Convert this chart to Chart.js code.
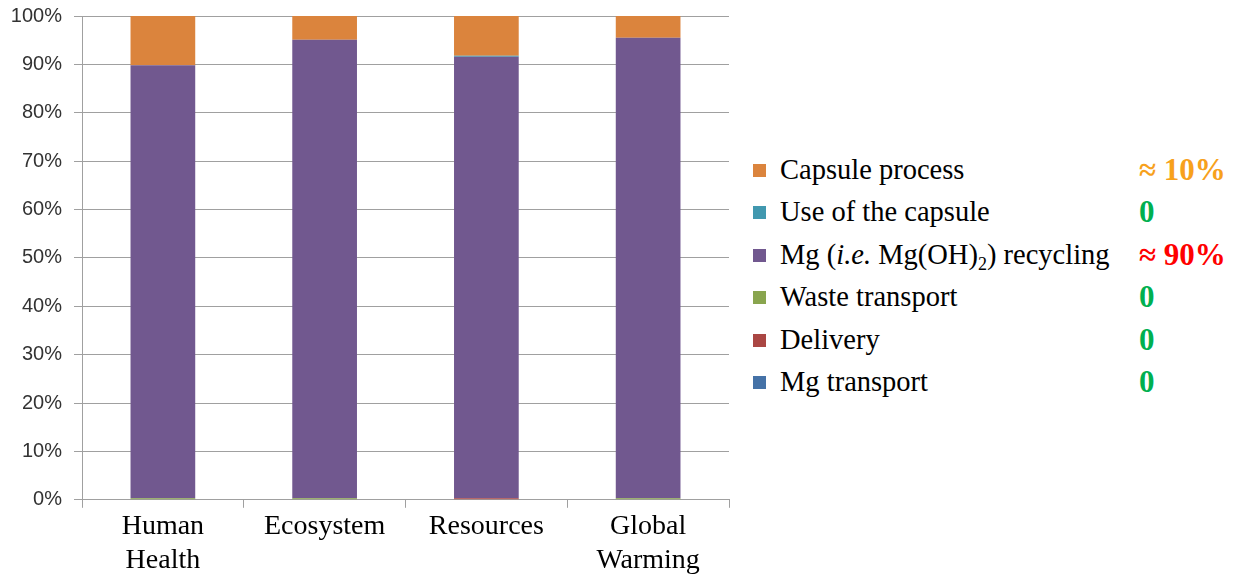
<!DOCTYPE html>
<html>
<head>
<meta charset="utf-8">
<script src="https://cdn.jsdelivr.net/npm/chart.js@4.4.0/dist/chart.umd.min.js"></script>
<style>
  body { margin: 0; background: #fff; overflow: hidden; }
  #wrap { position: relative; width: 1239px; height: 578px; overflow: hidden; }
  #chart_box { position: absolute; left: 0; top: -2px; width: 740px; height: 581px; }
  #legend { position: absolute; left: 0; top: 0; font-family: "Liberation Serif", "Times New Roman", serif; font-size: 28.5px; color: #000; }
  .row { position: absolute; left: 753px; height: 30px; width: 486px; white-space: nowrap; }
  .sq { position: absolute; left: 0; top: 9px; width: 13px; height: 13px; }
  .lbl { position: absolute; left: 27px; top: 0; line-height: 30px; }
  .note { position: absolute; left: 386px; top: 0; line-height: 30px; font-weight: bold; font-size: 31px; }
</style>
</head>
<body>
<div id="wrap">
  <div id="chart_box"><canvas id="bar_chart" width="740" height="581"></canvas></div>
  <div id="legend"></div>
</div>
<script>
// categories (two-line labels as in the original)
var categories = [['Human', 'Health'], ['Ecosystem'], ['Resources'], ['Global', 'Warming']];

// series, bottom of the stack first
var mgTransport    = [0, 0, 0, 0];
var delivery       = [0, 0, 0.3, 0];
var wasteTransport = [0.3, 0.3, 0, 0.3];
var mgRecycling    = [89.5, 94.8, 91.3, 95.2];
var useOfCapsule   = [0, 0, 0.2, 0];
var capsuleProcess = [10.2, 4.9, 8.2, 4.5];

var yTicks = [0, 10, 20, 30, 40, 50, 60, 70, 80, 90, 100];

// legend notes, same order as the legend (top first)
var legendNames = ['Capsule process', 'Use of the capsule', 'Mg (<i>i.e.</i> Mg(OH)<sub style="font-size:18px;vertical-align:-6px">2</sub>) recycling', 'Waste transport', 'Delivery', 'Mg transport'];
var legendNotes = ['\u2248 10%', '0', '\u2248 90%', '0', '0', '0'];
var noteColors = ['#F7A11C', '#00B050', '#FF0000', '#00B050', '#00B050', '#00B050'];

var series = [
    {label: 'Mg transport', data: mgTransport, color: '#4572A7'},
    {label: 'Delivery', data: delivery, color: '#AA4643'},
    {label: 'Waste transport', data: wasteTransport, color: '#89A54E'},
    {label: 'Mg (i.e. Mg(OH)2) recycling', data: mgRecycling, color: '#71588F'},
    {label: 'Use of the capsule', data: useOfCapsule, color: '#4198AF'},
    {label: 'Capsule process', data: capsuleProcess, color: '#DB843D'}
];

var datasets = series.map(function (s) {
    return {
        label: s.label,
        data: s.data,
        backgroundColor: s.color,
        borderWidth: 0,
        categoryPercentage: 1,
        barPercentage: 0.4
    };
});

var ctx = document.getElementById('bar_chart').getContext('2d');
var myChart = new Chart(ctx, {
    type: 'bar',
    data: {labels: categories, datasets: datasets},
    options: {
        responsive: false,
        animation: false,
        layout: {padding: {left: 0, right: 11, top: 8, bottom: 0}},
        plugins: {
            legend: {display: false},
            tooltip: {enabled: false}
        },
        scales: {
            x: {
                stacked: true,
                grid: {
                    display: true,
                    offset: true,
                    drawOnChartArea: false,
                    drawTicks: true,
                    tickLength: 8,
                    color: '#A0A0A0'
                },
                border: {color: '#A0A0A0'},
                ticks: {
                    color: '#000',
                    padding: 2,
                    maxRotation: 0,
                    font: {family: 'Liberation Serif', size: 28, lineHeight: 1.2}
                }
            },
            y: {
                stacked: true,
                min: 0,
                max: 100,
                afterFit: function (scale) { scale.width = 82; },
                afterBuildTicks: function (scale) {
                    scale.ticks = yTicks.map(function (v) { return {value: v}; });
                },
                grid: {color: '#A0A0A0', tickLength: 8},
                border: {color: '#A0A0A0'},
                ticks: {
                    color: '#333',
                    padding: 12,
                    font: {family: 'Liberation Sans', size: 20, lineHeight: 0.6},
                    callback: function (v) { return v + '%'; }
                }
            }
        }
    }
});

// legend on the right
var html = '';
for (var i = 0; i < legendNames.length; i++) {
    var s = series[series.length - 1 - i];
    var rowTop = 155 + i * 42.4;
    html += '<div class="row" style="top:' + rowTop + 'px">' +
        '<div class="sq" style="background:' + s.color + '"></div>' +
        '<div class="lbl">' + legendNames[i] + '</div>' +
        '<div class="note" style="color:' + noteColors[i] + '">' + legendNotes[i] + '</div>' +
        '</div>';
}
document.getElementById('legend').innerHTML = html;
</script>
</body>
</html>
